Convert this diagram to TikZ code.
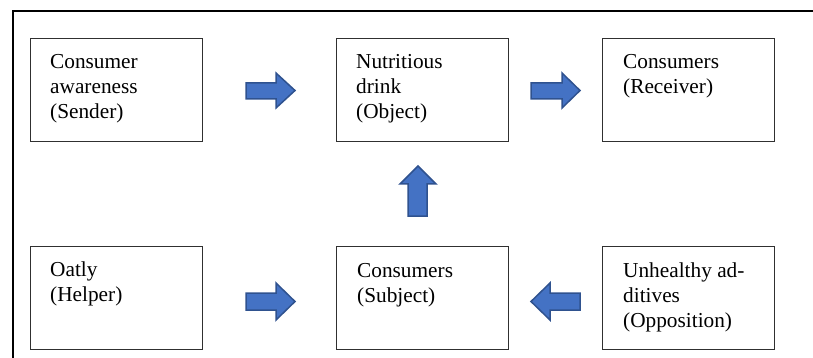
\documentclass[tikz,border=0pt]{standalone}
\usepackage{fontspec}
\setmainfont{Liberation Serif}
\begin{document}
\begin{tikzpicture}[x=1pt,y=-1pt]
\definecolor{arrfill}{HTML}{4472C4}
\definecolor{arrdraw}{HTML}{2F528F}
\definecolor{boxline}{HTML}{303030}
\tikzset{
  boxnode/.style={draw=boxline,line width=1.4pt,minimum width=172pt,minimum height=103pt,inner sep=0pt,anchor=north west},
  boxtext/.style={anchor=north west,align=left,inner sep=0pt,font=\fontsize{21.3}{25}\selectfont},
  blockarrow/.style={fill=arrfill,draw=arrdraw,line width=1.5pt,line join=miter}
}
\newcommand{\firststrut}{\rule{0pt}{17pt}}
\useasboundingbox (0,0) rectangle (813,358);
\draw[line width=2pt] (12.5,358) -- (12.5,11.5) -- (813,11.5);
% boxes
\node[boxnode] (b1) at (30,38) {};
\node[boxnode] (b2) at (336,38) {};
\node[boxnode] (b3) at (602,38) {};
\node[boxnode] (b4) at (30,246) {};
\node[boxnode] (b5) at (336,246) {};
\node[boxnode] (b6) at (602,246) {};
% texts
\node[boxtext] (t1) at ([xshift=20pt,yshift=-13pt]b1.north west) {\firststrut Consumer\\awareness\\(Sender)};
\node[boxtext] (t2) at ([xshift=20pt,yshift=-13pt]b2.north west) {\firststrut Nutritious\\drink\\(Object)};
\node[boxtext] (t3) at ([xshift=21pt,yshift=-13pt]b3.north west) {\firststrut Consumers\\(Receiver)};
\node[boxtext] (t4) at ([xshift=20pt,yshift=-13pt]b4.north west) {\firststrut Oatly\\(Helper)};
\node[boxtext] (t5) at ([xshift=21pt,yshift=-14pt]b5.north west) {\firststrut Consumers\\(Subject)};
\node[boxtext] (t6) at ([xshift=21pt,yshift=-14pt]b6.north west) {\firststrut Unhealthy ad-\\ditives\\(Opposition)};
% block arrows
\draw[blockarrow] (246,83) -- (276,83) -- (276,73) -- (295,90.5) -- (276,108) -- (276,99) -- (246,99) -- cycle;
\draw[blockarrow] (531,83) -- (562,83) -- (562,73) -- (580,90.5) -- (562,108) -- (562,99) -- (531,99) -- cycle;
\draw[blockarrow] (246,293) -- (276,293) -- (276,283) -- (295,301.5) -- (276,320) -- (276,310) -- (246,310) -- cycle;
\draw[blockarrow] (580,293) -- (550,293) -- (550,283) -- (531,301.5) -- (550,320) -- (550,310) -- (580,310) -- cycle;
\draw[blockarrow] (408,216) -- (408,184) -- (400,184) -- (418,166) -- (436,184) -- (427,184) -- (427,216) -- cycle;
\end{tikzpicture}
\end{document}
